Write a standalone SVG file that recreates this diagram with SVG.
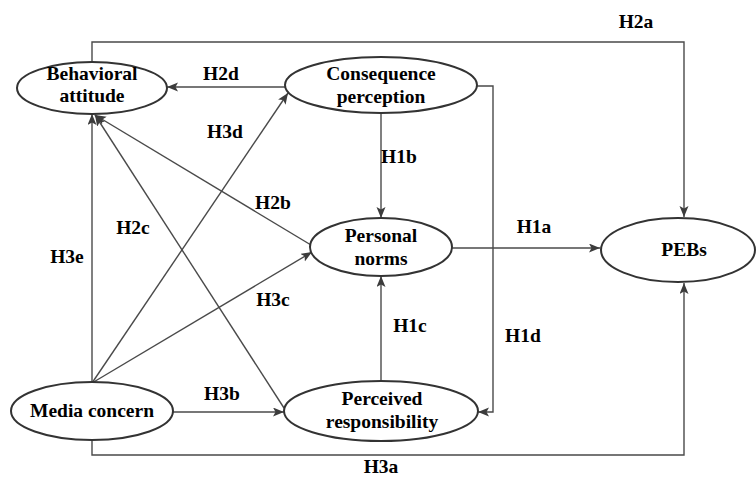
<svg xmlns="http://www.w3.org/2000/svg" width="756" height="485" viewBox="0 0 756 485">
<defs>
<marker id="ah" markerUnits="userSpaceOnUse" markerWidth="12" markerHeight="10" refX="11" refY="4.5" orient="auto">
<path d="M0,0 L11,4.5 L0,9 L2.5,4.5 Z" fill="#3c3c3c"/>
</marker>
<style>
.n ellipse{fill:#fff;stroke:#333;stroke-width:2}
text{font-family:'Liberation Serif','Times New Roman',Times,serif;font-weight:bold;font-size:19.5px;fill:#000;text-anchor:middle}
.c path{fill:none;stroke:#4a4a4a;stroke-width:1.4}
.a{marker-end:url(#ah)}
</style>
</defs>
<rect width="756" height="485" fill="#fff"/>
<g class="c" id="connectors">
<path class="a" d="M92,62 V42 H684 V217"/>
<path class="a" d="M285,87 H167"/>
<path class="a" d="M92,383 L288,93"/>
<path class="a" d="M92,383 V114"/>
<path class="a" d="M92,383 L312,252"/>
<path class="a" d="M311,245 L95,115"/>
<path class="a" d="M284,408 L95,115"/>
<path class="a" d="M381,113 V218"/>
<path class="a" d="M381,381 V276"/>
<path class="a" d="M452,248 H600"/>
<path class="a" d="M477,86 H493 V412 H478"/>
<path class="a" d="M173,412 H284"/>
<path class="a" d="M92,440 V455 H684 V283"/>
</g>
<g id="labels">
<text x="636" y="28">H2a</text>
<text x="221" y="80">H2d</text>
<text x="225" y="138">H3d</text>
<text x="399" y="163">H1b</text>
<text x="273" y="209">H2b</text>
<text x="133" y="234">H2c</text>
<text x="67" y="263">H3e</text>
<text x="534" y="233">H1a</text>
<text x="273" y="306">H3c</text>
<text x="410" y="332">H1c</text>
<text x="523" y="342">H1d</text>
<text x="222" y="400">H3b</text>
<text x="381" y="473">H3a</text>
</g>
<g id="behavioral-attitude" class="n">
<ellipse cx="92" cy="88" rx="75" ry="26"/>
<text x="92" y="80">Behavioral</text>
<text x="92" y="102">attitude</text>
</g>
<g id="consequence-perception" class="n">
<ellipse cx="381" cy="85" rx="96" ry="28"/>
<text x="381" y="80">Consequence</text>
<text x="381" y="103">perception</text>
</g>
<g id="personal-norms" class="n">
<ellipse cx="381" cy="247" rx="71" ry="29"/>
<text x="381" y="242">Personal</text>
<text x="381" y="265">norms</text>
</g>
<g id="pebs" class="n">
<ellipse cx="678" cy="250" rx="77" ry="32"/>
<text x="684" y="256">PEBs</text>
</g>
<g id="media-concern" class="n">
<ellipse cx="92" cy="411" rx="81" ry="29"/>
<text x="92" y="417">Media concern</text>
</g>
<g id="perceived-responsibility" class="n">
<ellipse cx="381" cy="411" rx="97" ry="30"/>
<text x="382" y="405">Perceived</text>
<text x="382" y="428">responsibility</text>
</g>
</svg>
